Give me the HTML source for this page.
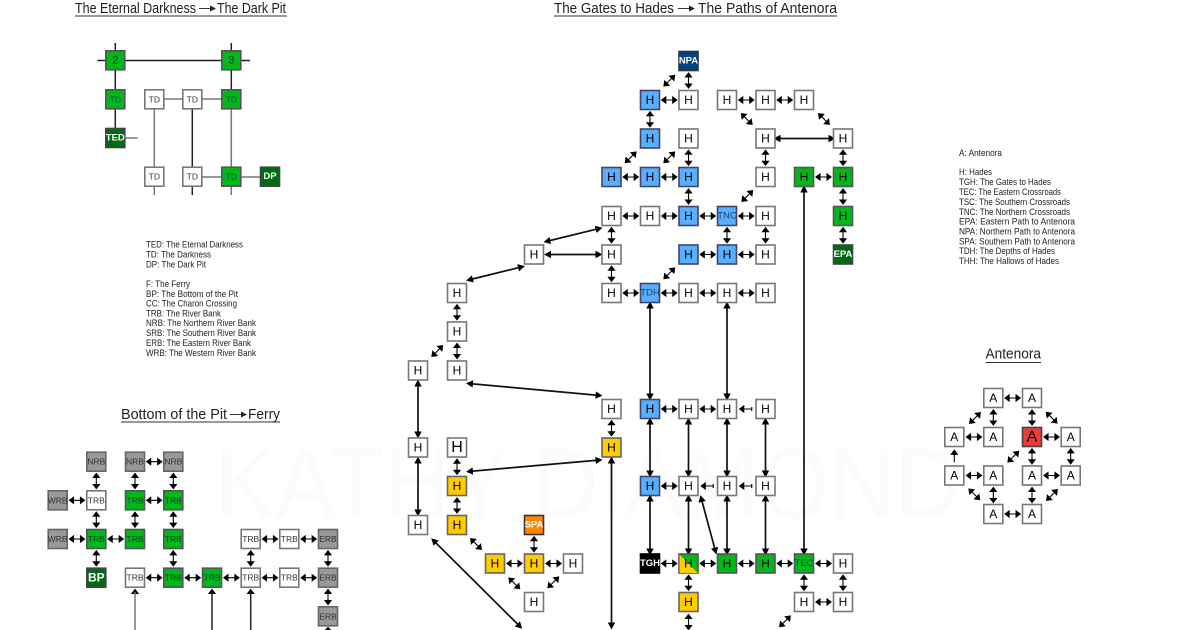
<!DOCTYPE html>
<html><head><meta charset="utf-8"><style>
html,body{margin:0;padding:0;background:#fff;width:1200px;height:630px;overflow:hidden}
svg{display:block;font-family:"Liberation Sans",sans-serif;filter:blur(.3px)}
rect{width:19px;height:19px;transform:translate(-9.5px,-9.5px);stroke:#777;stroke-width:1.6}
.w{fill:#fff}.b{fill:#5aaeff;stroke:#446}.g{fill:#00b81a;stroke:#555}.d{fill:#006a14;stroke:#444}.y{fill:#ffcc00;stroke:#666}
.o{fill:#ff8800;stroke:#334}.n{fill:#004488;stroke:#333}.k{fill:#000;stroke:#000}.e{fill:#999;stroke:#666}.r{fill:#f03a3a;stroke:#444}
.t text{text-anchor:middle;dominant-baseline:central;font-size:12px;fill:#000}
.s text{font-size:8.5px;fill:#333}
.l text{font-size:9px;fill:#222}
.ti{font-size:14.5px;fill:#222}
.a{fill:#000;stroke:#000;stroke-width:1.1}
.L{stroke:#111;stroke-width:1.7;fill:none;marker-start:url(#m);marker-end:url(#m)}
.p{stroke:#777;stroke-width:1.5}.q{stroke:#222;stroke-width:1.5}
.u{stroke:#333;stroke-width:1}
</style></head><body>
<svg width="1200" height="630" viewBox="0 0 1200 630" xmlns="http://www.w3.org/2000/svg">
<defs>
<path id="h" class="a" d="M-7.5 0L-3.5-3V3ZM7.5 0L3.5-3V3ZM-4 0H4"/>
<path id="v" class="a" d="M-7.5 0L-3.5-3V3ZM7.5 0L3.5-3V3ZM-4 0H4" transform="rotate(90)"/>
<path id="f" class="a" d="M-7.5 0L-3.5-3V3ZM7.5 0L3.5-3V3ZM-4 0H4" transform="rotate(-45)"/>
<path id="x" class="a" d="M-7.5 0L-3.5-3V3ZM7.5 0L3.5-3V3ZM-4 0H4" transform="rotate(45)"/>
<path id="l" class="a" d="M-6.5 0L-2.5-3V3ZM-3 0H5.5M5.5-2V2"/>
<path id="up" class="a" d="M0-6L-3-2H3ZM0-3V6"/>
<marker id="m" markerUnits="userSpaceOnUse" markerWidth="9" markerHeight="9" refX="4.5" refY="4.5" orient="auto-start-reverse"><path d="M0 0.8L7 4.5L0 8.2Z" fill="#000"/></marker>
</defs>

<text x="215" y="518" font-size="100" fill="#fbfbfb" textLength="745" lengthAdjust="spacingAndGlyphs">KATHY DIAMOND</text>

<!-- titles -->
<text class="ti" x="75" y="13" textLength="121" lengthAdjust="spacingAndGlyphs">The Eternal Darkness</text>
<path d="M199 8.5H211" class="u"/><path d="M210 5.5L216 8.5L210 11.5Z" fill="#222"/>
<text class="ti" x="217" y="13" textLength="69" lengthAdjust="spacingAndGlyphs">The Dark Pit</text>
<path d="M75 16H287" class="u"/>
<text class="ti" x="554" y="13" textLength="120" lengthAdjust="spacingAndGlyphs">The Gates to Hades</text>
<path d="M678 8.5H690" class="u"/><path d="M689 5.5L695 8.5L689 11.5Z" fill="#222"/>
<text class="ti" x="698" y="13" textLength="139" lengthAdjust="spacingAndGlyphs">The Paths of Antenora</text>
<path d="M554 16H837" class="u"/>
<text class="ti" x="121" y="419" textLength="106" lengthAdjust="spacingAndGlyphs">Bottom of the Pit</text>
<path d="M230 414.5H242" class="u"/><path d="M241 411.5L247 414.5L241 417.5Z" fill="#222"/>
<text class="ti" x="248" y="419" textLength="32" lengthAdjust="spacingAndGlyphs">Ferry</text>
<path d="M121 422H280" class="u"/>
<text class="ti" x="985.5" y="358.5" textLength="55.5" lengthAdjust="spacingAndGlyphs">Antenora</text>
<path d="M985.5 362.5H1041" class="u"/>

<!-- legends -->
<g class="l">
<text x="146" y="247.5" textLength="97" lengthAdjust="spacingAndGlyphs">TED: The Eternal Darkness</text>
<text x="146" y="257.5" textLength="65" lengthAdjust="spacingAndGlyphs">TD: The Darkness</text>
<text x="146" y="267.5" textLength="60" lengthAdjust="spacingAndGlyphs">DP: The Dark Pit</text>
<text x="146" y="287" textLength="44" lengthAdjust="spacingAndGlyphs">F: The Ferry</text>
<text x="146" y="297" textLength="92" lengthAdjust="spacingAndGlyphs">BP: The Bottom of the Pit</text>
<text x="146" y="306.5" textLength="91" lengthAdjust="spacingAndGlyphs">CC: The Charon Crossing</text>
<text x="146" y="316.5" textLength="75" lengthAdjust="spacingAndGlyphs">TRB: The River Bank</text>
<text x="146" y="326" textLength="110" lengthAdjust="spacingAndGlyphs">NRB: The Northern River Bank</text>
<text x="146" y="336" textLength="110" lengthAdjust="spacingAndGlyphs">SRB: The Southern River Bank</text>
<text x="146" y="346" textLength="105" lengthAdjust="spacingAndGlyphs">ERB: The Eastern River Bank</text>
<text x="146" y="356" textLength="110" lengthAdjust="spacingAndGlyphs">WRB: The Western River Bank</text>
<text x="959" y="156" textLength="43" lengthAdjust="spacingAndGlyphs">A: Antenora</text>
<text x="959" y="175" textLength="33" lengthAdjust="spacingAndGlyphs">H: Hades</text>
<text x="959" y="185" textLength="92" lengthAdjust="spacingAndGlyphs">TGH: The Gates to Hades</text>
<text x="959" y="195" textLength="102" lengthAdjust="spacingAndGlyphs">TEC: The Eastern Crossroads</text>
<text x="959" y="205" textLength="111" lengthAdjust="spacingAndGlyphs">TSC: The Southern Crossroads</text>
<text x="959" y="215" textLength="111" lengthAdjust="spacingAndGlyphs">TNC: The Northern Crossroads</text>
<text x="959" y="224.5" textLength="116" lengthAdjust="spacingAndGlyphs">EPA: Eastern Path to Antenora</text>
<text x="959" y="234.5" textLength="116" lengthAdjust="spacingAndGlyphs">NPA: Northern Path to Antenora</text>
<text x="959" y="244.5" textLength="116" lengthAdjust="spacingAndGlyphs">SPA: Southern Path to Antenora</text>
<text x="959" y="254" textLength="96" lengthAdjust="spacingAndGlyphs">TDH: The Depths of Hades</text>
<text x="959" y="264" textLength="100" lengthAdjust="spacingAndGlyphs">THH: The Hallows of Hades</text>
</g>

<!-- Eternal Darkness lines -->
<path class="q" d="M97.5 60.5H250M115.3 43V138M231.3 43V99M192.3 99V195"/>
<path class="p" d="M231.3 99V195M154.3 99H231M154.3 99V195M115 138H137.5M192 177H270"/>
<g class="t s">
<rect class="g" x="115.3" y="60.3"/><text x="115.3" y="60.3" style="font-size:11px;fill:#033">2</text>
<rect class="g" x="231.3" y="60.3"/><text x="231.3" y="60.3" style="font-size:11px;fill:#033">3</text>
<rect class="g" x="115.3" y="99.3"/><text x="115.3" y="99.3" style="fill:#054">TD</text>
<rect class="w" x="154.3" y="99.3"/><text x="154.3" y="99.3">TD</text>
<rect class="w" x="192.3" y="99.3"/><text x="192.3" y="99.3">TD</text>
<rect class="g" x="231.3" y="99.3"/><text x="231.3" y="99.3" style="fill:#054">TD</text>
<rect class="d" x="115.3" y="138"/><text x="115.3" y="138" style="fill:#fff;font-weight:bold;font-size:9.5px">TED</text>
<rect class="w" x="154.3" y="176.7"/><text x="154.3" y="176.7">TD</text>
<rect class="w" x="192.3" y="176.7"/><text x="192.3" y="176.7">TD</text>
<rect class="g" x="231.3" y="176.7"/><text x="231.3" y="176.7" style="fill:#054">TD</text>
<rect class="d" x="270" y="176.7"/><text x="270" y="176.7" style="fill:#fff;font-weight:bold;font-size:9.5px">DP</text>
</g>

<!-- River bank -->
<g>
<use href="#h" x="154.2" y="461.7"/>
<use href="#h" x="77" y="500.3"/><use href="#h" x="154.2" y="500.3"/>
<use href="#h" x="77" y="539"/><use href="#h" x="115.7" y="539"/><use href="#h" x="270" y="539"/><use href="#h" x="308.7" y="539"/>
<use href="#h" x="154.2" y="577.7"/><use href="#h" x="192.7" y="577.7"/><use href="#h" x="231.4" y="577.7"/><use href="#h" x="270" y="577.7"/><use href="#h" x="308.7" y="577.7"/>
<use href="#v" x="96.3" y="481"/><use href="#v" x="135" y="481"/><use href="#v" x="173.3" y="481"/>
<use href="#v" x="96.3" y="519.7"/><use href="#v" x="135" y="519.7"/><use href="#v" x="173.3" y="519.7"/>
<use href="#v" x="96.3" y="558.3"/><use href="#v" x="173.3" y="558.3"/><use href="#v" x="250.7" y="558.3"/><use href="#v" x="328" y="558.3"/><use href="#v" x="328" y="597"/>
<path class="a" d="M135 589.5l-3 4h6ZM212 589.5l-3 4h6ZM250.7 589.5l-3 4h6ZM328 627.5l-3 3h6Z"/>
<path class="p" d="M135 592V630"/><path class="q" d="M212 592V630M250.7 592V630"/>
</g>
<g class="t s">
<rect class="e" x="96.3" y="461.7"/><text x="96.3" y="461.7">NRB</text>
<rect class="e" x="135" y="461.7"/><text x="135" y="461.7">NRB</text>
<rect class="e" x="173.3" y="461.7"/><text x="173.3" y="461.7">NRB</text>
<rect class="e" x="57.7" y="500.3"/><text x="57.7" y="500.3">WRB</text>
<rect class="w" x="96.3" y="500.3"/><text x="96.3" y="500.3">TRB</text>
<rect class="g" x="135" y="500.3"/><text x="135" y="500.3" style="fill:#042">TRB</text>
<rect class="g" x="173.3" y="500.3"/><text x="173.3" y="500.3" style="fill:#042">TRB</text>
<rect class="e" x="57.7" y="539"/><text x="57.7" y="539">WRB</text>
<rect class="g" x="96.3" y="539"/><text x="96.3" y="539" style="fill:#042">TRB</text>
<rect class="g" x="135" y="539"/><text x="135" y="539" style="fill:#042">TRB</text>
<rect class="g" x="173.3" y="539"/><text x="173.3" y="539" style="fill:#042">TRB</text>
<rect class="w" x="250.7" y="539"/><text x="250.7" y="539">TRB</text>
<rect class="w" x="289.3" y="539"/><text x="289.3" y="539">TRB</text>
<rect class="e" x="328" y="539"/><text x="328" y="539">ERB</text>
<rect class="d" x="96.3" y="577.7"/><text x="96.3" y="577.7" style="fill:#fff;font-weight:bold;font-size:12px">BP</text>
<rect class="w" x="135" y="577.7"/><text x="135" y="577.7">TRB</text>
<rect class="g" x="173.3" y="577.7"/><text x="173.3" y="577.7" style="fill:#042">TRB</text>
<rect class="g" x="212" y="577.7"/><text x="212" y="577.7" style="fill:#042">TRB</text>
<rect class="w" x="250.7" y="577.7"/><text x="250.7" y="577.7">TRB</text>
<rect class="w" x="289.3" y="577.7"/><text x="289.3" y="577.7">TRB</text>
<rect class="e" x="328" y="577.7"/><text x="328" y="577.7">ERB</text>
<rect class="e" x="328" y="616.3"/><text x="328" y="616.3">ERB</text>
</g>

<!-- Hades arrows -->
<g>
<use href="#h" x="669.25" y="100"/><use href="#h" x="746.25" y="100"/><use href="#h" x="784.75" y="100"/>
<use href="#h" x="630.75" y="177"/><use href="#h" x="669.25" y="177"/><use href="#h" x="823.5" y="177"/>
<use href="#h" x="630.75" y="216"/><use href="#h" x="669.25" y="216"/><use href="#h" x="707.75" y="216"/><use href="#h" x="746.25" y="216"/>
<use href="#h" x="707.75" y="254.5"/><use href="#h" x="746.25" y="254.5"/>
<use href="#h" x="630.75" y="293"/><use href="#h" x="669.25" y="293"/><use href="#h" x="707.75" y="293"/><use href="#h" x="746.25" y="293"/>
<use href="#h" x="669.25" y="409"/><use href="#h" x="707.75" y="409"/><use href="#l" x="746.25" y="409"/>
<use href="#h" x="669.25" y="486"/><use href="#l" x="707.75" y="486"/><use href="#l" x="746.25" y="486"/>
<use href="#h" x="514.5" y="563.5"/><use href="#h" x="553.5" y="563.5"/>
<use href="#h" x="669.25" y="563.5"/><use href="#h" x="707.75" y="563.5"/><use href="#h" x="746.25" y="563.5"/><use href="#h" x="784.75" y="563.5"/><use href="#h" x="823.5" y="563.5"/>
<use href="#h" x="823.5" y="602"/>
<use href="#v" x="688.5" y="80.5"/><use href="#v" x="650" y="119.25"/><use href="#v" x="688.5" y="157.75"/><use href="#v" x="765.5" y="157.75"/><use href="#v" x="843" y="157.75"/>
<use href="#v" x="688.5" y="196.5"/><use href="#v" x="843" y="196.5"/>
<use href="#v" x="611.5" y="235.25"/><use href="#v" x="727" y="235.25"/><use href="#v" x="765.5" y="235.25"/><use href="#v" x="843" y="235.25"/>
<use href="#v" x="611.5" y="273.75"/><use href="#v" x="457" y="312.25"/><use href="#v" x="457" y="351"/>
<use href="#v" x="611.5" y="428.25"/><use href="#v" x="457" y="466.75"/><use href="#v" x="457" y="505.5"/><use href="#v" x="534" y="544.25"/>
<use href="#v" x="688.5" y="582.75"/><use href="#v" x="804" y="582.75"/><use href="#v" x="843" y="582.75"/><use href="#v" x="688.5" y="622"/>
<use href="#f" x="669.3" y="80.7"/><use href="#f" x="630.7" y="157.3"/><use href="#f" x="669.3" y="157.3"/><use href="#f" x="747.3" y="196"/><use href="#f" x="669.3" y="273.3"/><use href="#f" x="785" y="621.3"/><use href="#f" x="437.3" y="351"/><use href="#f" x="553.3" y="582.3"/>
<use href="#x" x="746.7" y="119"/><use href="#x" x="824" y="119"/><use href="#x" x="476" y="544"/><use href="#x" x="514.3" y="583.3"/>
<line class="L" x1="776" y1="138.5" x2="833" y2="138.5"/>
<line class="L" x1="546.5" y1="254.5" x2="600" y2="254.5"/>
<line class="L" x1="804" y1="188" x2="804" y2="553"/>
<line class="L" x1="418" y1="382" x2="418" y2="436"/>
<line class="L" x1="418" y1="459" x2="418" y2="514"/>
<line class="L" x1="650" y1="304" x2="650" y2="398"/>
<line class="L" x1="727" y1="304" x2="727" y2="398"/>
<line class="L" x1="650" y1="420" x2="650" y2="475"/>
<line class="L" x1="688.5" y1="420" x2="688.5" y2="475"/>
<line class="L" x1="727" y1="420" x2="727" y2="475"/>
<line class="L" x1="765.5" y1="420" x2="765.5" y2="475"/>
<line class="L" x1="650" y1="497" x2="650" y2="553"/>
<line class="L" x1="688.5" y1="497" x2="688.5" y2="553"/>
<line class="L" x1="727" y1="497" x2="727" y2="553"/>
<line class="L" x1="765.5" y1="497" x2="765.5" y2="553"/>
<line class="L" x1="611.5" y1="459" x2="611.5" y2="627"/>
<line class="L" x1="433" y1="540" x2="520.5" y2="627"/>
<line class="L" x1="468.5" y1="383.5" x2="600" y2="395.5"/>
<line class="L" x1="468.5" y1="471.5" x2="600" y2="460"/>
<line class="L" x1="468.5" y1="280" x2="522.5" y2="266.7"/>
<line class="L" x1="546" y1="241.5" x2="600" y2="228.3"/>
<line class="L" x1="701" y1="497.5" x2="715.7" y2="552"/>
</g>

<!-- Hades nodes -->
<g class="t">
<rect class="n" x="688.5" y="61"/><text x="688.5" y="61" style="fill:#fff;font-size:9.5px;font-weight:bold">NPA</text>
<rect class="b" x="650" y="100"/><text x="650" y="100">H</text>
<rect class="w" x="688.5" y="100"/><text x="688.5" y="100">H</text>
<rect class="w" x="727" y="100"/><text x="727" y="100">H</text>
<rect class="w" x="765.5" y="100"/><text x="765.5" y="100">H</text>
<rect class="w" x="804" y="100"/><text x="804" y="100">H</text>
<rect class="b" x="650" y="138.5"/><text x="650" y="138.5">H</text>
<rect class="w" x="688.5" y="138.5"/><text x="688.5" y="138.5">H</text>
<rect class="w" x="765.5" y="138.5"/><text x="765.5" y="138.5">H</text>
<rect class="w" x="843" y="138.5"/><text x="843" y="138.5">H</text>
<rect class="b" x="611.5" y="177"/><text x="611.5" y="177">H</text>
<rect class="b" x="650" y="177"/><text x="650" y="177">H</text>
<rect class="b" x="688.5" y="177"/><text x="688.5" y="177">H</text>
<rect class="w" x="765.5" y="177"/><text x="765.5" y="177">H</text>
<rect class="g" x="804" y="177"/><text x="804" y="177">H</text>
<rect class="g" x="843" y="177"/><text x="843" y="177">H</text>
<rect class="w" x="611.5" y="216"/><text x="611.5" y="216">H</text>
<rect class="w" x="650" y="216"/><text x="650" y="216">H</text>
<rect class="b" x="688.5" y="216"/><text x="688.5" y="216">H</text>
<rect class="b" x="727" y="216"/><text x="727" y="216" style="font-size:9.5px;fill:#246">TNC</text>
<rect class="w" x="765.5" y="216"/><text x="765.5" y="216">H</text>
<rect class="g" x="843" y="216"/><text x="843" y="216">H</text>
<rect class="w" x="534" y="254.5"/><text x="534" y="254.5">H</text>
<rect class="w" x="611.5" y="254.5"/><text x="611.5" y="254.5">H</text>
<rect class="b" x="688.5" y="254.5"/><text x="688.5" y="254.5">H</text>
<rect class="b" x="727" y="254.5"/><text x="727" y="254.5">H</text>
<rect class="w" x="765.5" y="254.5"/><text x="765.5" y="254.5">H</text>
<rect class="d" x="843" y="254.5"/><text x="843" y="254.5" style="fill:#fff;font-size:9.5px;font-weight:bold">EPA</text>
<rect class="w" x="457" y="293"/><text x="457" y="293">H</text>
<rect class="w" x="611.5" y="293"/><text x="611.5" y="293">H</text>
<rect class="b" x="650" y="293"/><text x="650" y="293" style="font-size:9.5px;fill:#246">TDH</text>
<rect class="w" x="688.5" y="293"/><text x="688.5" y="293">H</text>
<rect class="w" x="727" y="293"/><text x="727" y="293">H</text>
<rect class="w" x="765.5" y="293"/><text x="765.5" y="293">H</text>
<rect class="w" x="457" y="331.5"/><text x="457" y="331.5">H</text>
<rect class="w" x="418" y="370.5"/><text x="418" y="370.5">H</text>
<rect class="w" x="457" y="370.5"/><text x="457" y="370.5">H</text>
<rect class="w" x="611.5" y="409"/><text x="611.5" y="409">H</text>
<rect class="b" x="650" y="409"/><text x="650" y="409">H</text>
<rect class="w" x="688.5" y="409"/><text x="688.5" y="409">H</text>
<rect class="w" x="727" y="409"/><text x="727" y="409">H</text>
<rect class="w" x="765.5" y="409"/><text x="765.5" y="409">H</text>
<rect class="w" x="418" y="447.5"/><text x="418" y="447.5">H</text>
<rect class="w" x="457" y="447.5"/><text x="457" y="447.5" style="font-size:16px">H</text>
<rect class="y" x="611.5" y="447.5"/><text x="611.5" y="447.5">H</text>
<rect class="y" x="457" y="486"/><text x="457" y="486">H</text>
<rect class="b" x="650" y="486"/><text x="650" y="486">H</text>
<rect class="w" x="688.5" y="486"/><text x="688.5" y="486">H</text>
<rect class="w" x="727" y="486"/><text x="727" y="486">H</text>
<rect class="w" x="765.5" y="486"/><text x="765.5" y="486">H</text>
<rect class="w" x="418" y="525"/><text x="418" y="525">H</text>
<rect class="y" x="457" y="525"/><text x="457" y="525">H</text>
<rect class="o" x="534" y="525"/><text x="534" y="525" style="fill:#fff;font-size:9.5px;font-weight:bold">SPA</text>
<rect class="y" x="495" y="563.5"/><text x="495" y="563.5">H</text>
<rect class="y" x="534" y="563.5"/><text x="534" y="563.5">H</text>
<rect class="w" x="573" y="563.5"/><text x="573" y="563.5">H</text>
<rect class="k" x="650" y="563.5"/><text x="650" y="563.5" style="fill:#fff;font-size:9.5px;font-weight:bold">TGH</text>
<rect class="g" x="688.5" y="563.5"/><path d="M679.5 554.5L698 573H679.5Z" fill="#ffcc00"/><text x="688.5" y="563.5">H</text>
<rect class="g" x="727" y="563.5"/><text x="727" y="563.5">H</text>
<rect class="g" x="765.5" y="563.5"/><text x="765.5" y="563.5">H</text>
<rect class="g" x="804" y="563.5"/><text x="804" y="563.5" style="font-size:9.5px;fill:#054">TEC</text>
<rect class="w" x="843" y="563.5"/><text x="843" y="563.5">H</text>
<rect class="w" x="534" y="602"/><text x="534" y="602">H</text>
<rect class="y" x="688.5" y="602"/><text x="688.5" y="602">H</text>
<rect class="w" x="804" y="602"/><text x="804" y="602">H</text>
<rect class="w" x="843" y="602"/><text x="843" y="602">H</text>
</g>

<!-- Antenora -->
<g>
<use href="#h" x="1012.6" y="398"/><use href="#h" x="974" y="437"/><use href="#h" x="1051.5" y="437"/><use href="#h" x="974" y="475.5"/><use href="#h" x="1051.5" y="475.5"/><use href="#h" x="1012.6" y="514"/>
<use href="#v" x="993.3" y="417.5"/><use href="#v" x="1032" y="417.5"/><use href="#v" x="1032" y="456.3"/><use href="#v" x="1070.7" y="456.3"/><use href="#v" x="993.3" y="495"/><use href="#v" x="1032" y="495"/>
<use href="#up" x="954.3" y="456.3"/>
<use href="#f" x="975" y="418"/><use href="#f" x="1013.3" y="456.7"/><use href="#f" x="1052" y="495"/>
<use href="#x" x="1051.7" y="417.7"/><use href="#x" x="974.3" y="494.3"/>
</g>
<g class="t">
<rect class="w" x="993.3" y="398"/><text x="993.3" y="398">A</text>
<rect class="w" x="1032" y="398"/><text x="1032" y="398">A</text>
<rect class="w" x="954.3" y="437"/><text x="954.3" y="437">A</text>
<rect class="w" x="993.3" y="437"/><text x="993.3" y="437">A</text>
<rect class="r" x="1032" y="437"/><text x="1032" y="437" style="font-size:16px">A</text>
<rect class="w" x="1070.7" y="437"/><text x="1070.7" y="437">A</text>
<rect class="w" x="954.3" y="475.5"/><text x="954.3" y="475.5">A</text>
<rect class="w" x="993.3" y="475.5"/><text x="993.3" y="475.5">A</text>
<rect class="w" x="1032" y="475.5"/><text x="1032" y="475.5">A</text>
<rect class="w" x="1070.7" y="475.5"/><text x="1070.7" y="475.5">A</text>
<rect class="w" x="993.3" y="514"/><text x="993.3" y="514">A</text>
<rect class="w" x="1032" y="514"/><text x="1032" y="514">A</text>
</g>
</svg>
</body></html>
